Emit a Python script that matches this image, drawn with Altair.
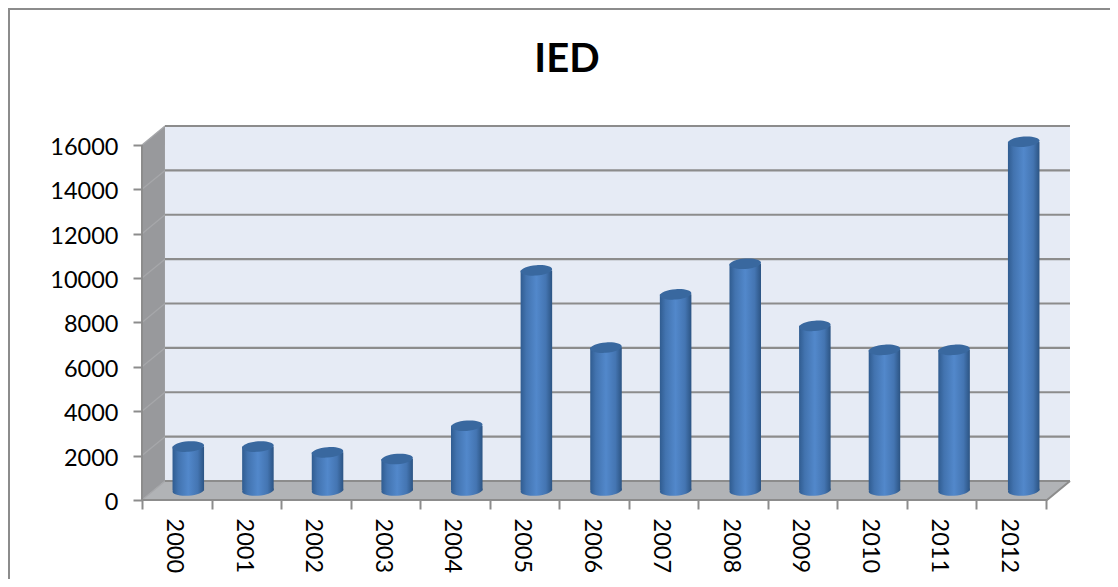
import altair as alt
import pandas as pd

title_text = ["IED"]
years = ["2000","2001","2002","2003","2004","2005","2006","2007","2008","2009","2010","2011","2012"]
values = [1980, 1980, 1720, 1420, 2920, 9920, 6440, 8840, 10220, 7420, 6340, 6340, 15720]
grid_values = [2000,4000,6000,8000,10000,12000,14000]
tick_values = [0,2000,4000,6000,8000,10000,12000,14000,16000]

N = len(years)
DX = 0.33      # depth of the 3D box, in category units
DY = 856       # depth of the 3D box, in value units
BAR = 0.453    # cylinder width, in category units
TOP = 16000

xs = alt.Scale(domain=[0, N + DX], nice=False, zero=False)
ys = alt.Scale(domain=[0, TOP + DY], nice=False, zero=False)
X = lambda f: alt.X(f"{f}:Q", scale=xs, axis=None)
Y = lambda f: alt.Y(f"{f}:Q", scale=ys, axis=None)
FONT = "Lato"
GRID = "#8C8C8C"

# walls
side = pd.DataFrame({"x":[0,DX],"y":[0,DY],"y2":[TOP,TOP+DY]})
floor = pd.DataFrame({"x":[0,DX,N,N+DX],"y":[0,0,0,DY],"y2":[0,DY,DY,DY]})
back = pd.DataFrame({"x":[DX],"x2":[N+DX],"y":[DY],"y2":[TOP+DY]})

side_l = alt.Chart(side).mark_area(color="#98999C",opacity=1,interpolate="linear").encode(x=X("x"),y=Y("y"),y2="y2:Q")
floor_l = alt.Chart(floor).mark_area(color="#B1B3B6",opacity=1,interpolate="linear").encode(x=X("x"),y=Y("y"),y2="y2:Q")
back_l = alt.Chart(back).mark_rect(color="#E6EBF5").encode(x=X("x"),x2="x2:Q",y=Y("y"),y2="y2:Q")

# gridlines on back wall and their diagonal on side wall
grid_rows = []
diag_rows = []
for g in [0] + grid_values + [TOP]:
    grid_rows += [{"g":g,"x":DX,"y":g+DY},{"g":g,"x":N+DX,"y":g+DY}]
    diag_rows += [{"g":g,"x":0,"y":g},{"g":g,"x":DX,"y":g+DY}]
grid_l = alt.Chart(pd.DataFrame(grid_rows)).mark_line(color=GRID,strokeWidth=2.2).encode(x=X("x"),y=Y("y"),detail="g:N")
diag_l = alt.Chart(pd.DataFrame(diag_rows)).mark_line(color="#A6A7AA",strokeWidth=1.3).encode(x=X("x"),y=Y("y"),detail="g:N")

# floor and side edges
edge_rows = [{"k":"a","x":0,"y":TOP},{"k":"a","x":0,"y":0},{"k":"a","x":N,"y":0},{"k":"a","x":N+DX,"y":DY}]
edge_l = alt.Chart(pd.DataFrame(edge_rows).assign(o=range(4))).mark_line(color=GRID,strokeWidth=2).encode(x=X("x"),y=Y("y"),detail="k:N",order="o:Q")

# cylinders
cyl = pd.DataFrame({"year":years,"v":values})
cyl["c"] = [i + 0.5 + DX/2 for i in range(N)]
cyl["x"] = cyl["c"] - BAR/2
cyl["x2"] = cyl["c"] + BAR/2
cyl["base"] = DY/2
cyl["top"] = cyl["v"] + DY/2

body = alt.Gradient(gradient="linear",x1=0,x2=1,y1=0,y2=0,stops=[
    alt.GradientStop(offset=0,color="#305C90"),
    alt.GradientStop(offset=0.18,color="#4273AF"),
    alt.GradientStop(offset=0.5,color="#5288CB"),
    alt.GradientStop(offset=0.8,color="#4475B2"),
    alt.GradientStop(offset=1,color="#2C5483")])
ELLIPSE = ("M-1,0.07 C-1,-0.11 -0.55,-0.2915 0,-0.33 C0.55,-0.3685 1,-0.25 1,-0.07 "
           "C1,0.11 0.55,0.2915 0,0.33 C-0.55,0.3685 -1,0.25 -1,0.07 Z")
SIZE = 992

bottom_l = alt.Chart(cyl).mark_point(shape=ELLIPSE,size=SIZE,filled=True,fill=body,opacity=1,strokeWidth=0).encode(x=X("c"),y=Y("base"))
body_l = alt.Chart(cyl).mark_bar(fill=body,opacity=1).encode(x=X("x"),x2="x2:Q",y=Y("base"),y2="top:Q")
top_l = alt.Chart(cyl).mark_point(shape=ELLIPSE,size=SIZE,filled=True,fill="#39689F",opacity=1,strokeWidth=0).encode(x=X("c"),y=Y("top"))

# axes
axis_l = alt.Chart(cyl).mark_point(opacity=0).encode(
    x=alt.X("year:N",title=None,sort=years,
            scale=alt.Scale(range=[0,904],paddingInner=0,paddingOuter=0),
            axis=alt.Axis(tickBand="extent",labelAngle=90,labelAlign="left",labelBaseline="middle",
                          labelFont=FONT,labelFontSize=23.5,labelColor="black",labelPadding=9,labelOffset=-3,
                          tickColor=GRID,tickWidth=2,tickSize=9,domain=False,grid=False)),
    y=alt.Y("v:Q",title=None,scale=ys,
            axis=alt.Axis(values=tick_values,labelFont=FONT,labelFontSize=23.5,labelColor="black",labelPadding=15,labelOffset=2.5,
                          tickColor=GRID,tickWidth=2,tickSize=9,domain=False,grid=False,format="d")))

# chart frame (left and top edges only)
frame_left = alt.Chart(cyl).mark_rule(color=GRID,strokeWidth=2).encode(x=alt.value(-133.5),y=alt.value(-118),y2=alt.value(453))
frame_top = alt.Chart(cyl).mark_rule(color=GRID,strokeWidth=2).encode(y=alt.value(-117.5),x=alt.value(-134),x2=alt.value(968))

# title
title_l = alt.Chart(pd.DataFrame({"t":title_text})).mark_text(font=FONT,fontSize=40,fontWeight="bold",color="black",align="center",baseline="alphabetic").encode(
    text="t:N",x=alt.value(425),y=alt.value(-54))

chart = alt.layer(axis_l,side_l,floor_l,back_l,diag_l,grid_l,edge_l,bottom_l,body_l,top_l,frame_left,frame_top,title_l).resolve_scale(x="independent").resolve_axis(x="independent",y="independent").properties(
    width=928,height=374,
    padding={"left":134,"top":118,"right":40,"bottom":79},
    autosize=alt.AutoSizeParams(type="none"),
    background="white",
).configure_view(stroke=None)

chart.save("out.html", embed_options={"renderer": "svg", "actions": False})
